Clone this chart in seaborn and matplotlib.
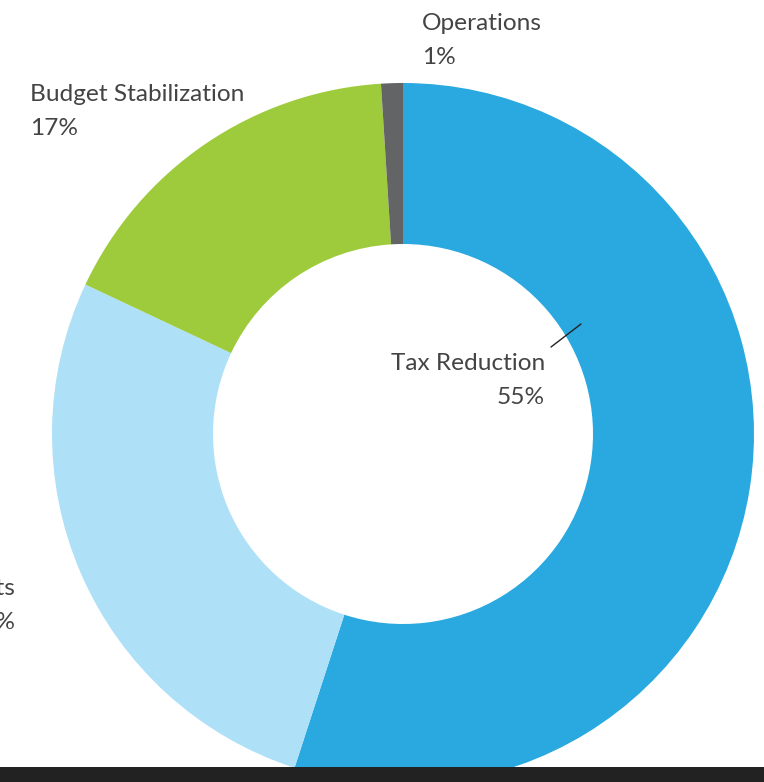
import matplotlib
matplotlib.use("Agg")
import matplotlib.pyplot as plt
import seaborn as sns
from matplotlib.patches import Rectangle

categories = ["Tax Reduction", "Investments", "Budget Stabilization", "Operations"]
values = [55, 27, 17, 1]
pct_labels = ["55%", "27%", "17%", "1%"]
colors = ["#29A9E0", "#AEE0F7", "#9ECB3B", "#636466"]

sns.set_theme(style="white")
plt.rcParams['font.family'] = ['Lato', 'DejaVu Sans']

W, H = 764, 782
fig = plt.figure(figsize=(W / 100, H / 100), dpi=100)
ax = fig.add_axes([0, 0, 1, 1])

cx, cy, R = 403, H - 434, 351
ax.pie(values, colors=colors, startangle=90, counterclock=False,
       center=(cx, cy), radius=R, frame=True,
       wedgeprops=dict(width=R - 190, linewidth=0))
ax.set_xlim(0, W)
ax.set_ylim(0, H)
ax.set_aspect('equal')
ax.axis('off')

tc = "#444444"
fs = 17.6

def lab(x, ybase, s, ha):
    ax.text(x, H - ybase, s, ha=ha, va='baseline', fontsize=fs, color=tc,
            fontweight='normal')

lab(545, 370, categories[0], 'right')
lab(545, 404, pct_labels[0], 'right')
ax.plot([551, 581], [H - 347, H - 324], color="#222222", lw=1)

lab(16, 595, categories[1], 'right')
lab(16, 629, pct_labels[1], 'right')

lab(30, 101, categories[2], 'left')
lab(30, 135, pct_labels[2], 'left')

lab(422, 30, categories[3], 'left')
lab(422, 64, pct_labels[3], 'left')

ax.add_patch(Rectangle((0, 0), W, H - 767, color="#222222", zorder=10, lw=0))

fig.savefig("out.png", dpi=100)
